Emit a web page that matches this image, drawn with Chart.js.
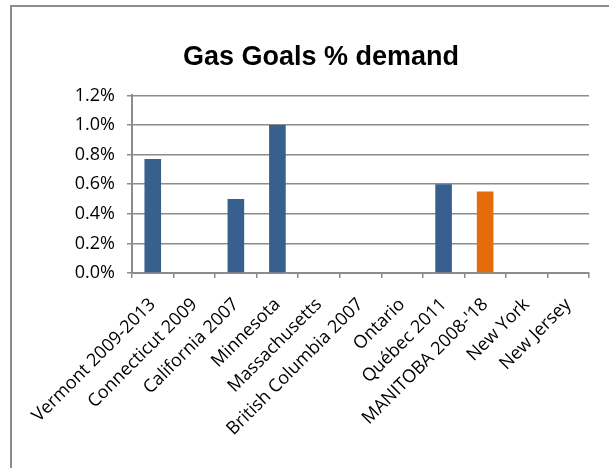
<!DOCTYPE html>
<html>
<head>
<meta charset="utf-8">
<script src="https://cdn.jsdelivr.net/npm/chart.js@4.4.1/dist/chart.umd.min.js"></script>
<style>
  html, body { margin: 0; padding: 0; background: #fff; }
  #wrap { position: relative; width: 609px; height: 468px; overflow: hidden; }
  #frame { position: absolute; left: 10px; top: 5px; width: 700px; height: 600px; border-top: 2px solid #8c8c8c; border-left: 2px solid #8c8c8c; }
  #box { position: absolute; left: 0; top: 0; width: 609px; height: 468px; }
</style>
</head>
<body>
<div id="wrap">
  <div id="frame"></div>
  <div id="box"><canvas id="c"></canvas></div>
</div>
<script>
  // kategoriler ve değerler (% talep)
  const programs = ["Vermont 2009-2013", "Connecticut 2009", "California 2007", "Minnesota", "Massachusetts",
    "British Columbia 2007", "Ontario", "Québec 2011", "MANITOBA 2008-'18", "New York", "New Jersey"];
  const goalPct = [0.77, null, 0.5, 1.0, null, null, null, 0.6, 0.55, null, null];
  const highlight = "MANITOBA 2008-'18";
  const yTicks = [0, 0.2, 0.4, 0.6, 0.8, 1.0, 1.2];

  const BLUE = "#37608f", ORANGE = "#e46c0a", GRID = "#8c8c8c";
  const tickFont = { family: "'Open Sans', sans-serif", size: 18 };

  new Chart(document.getElementById("c"), {
    type: "bar",
    data: {
      labels: programs,
      datasets: [{
        label: "Gas Goals % demand",
        data: goalPct,
        backgroundColor: programs.map(p => p === highlight ? ORANGE : BLUE),
        barPercentage: 0.4,
        categoryPercentage: 1
      }]
    },
    options: {
      responsive: true,
      maintainAspectRatio: false,
      animation: false,
      // sol boşluk başlığı grafiğin ortasına kaydırır
      layout: { padding: { left: 53, right: 20, top: 0, bottom: 0 } },
      plugins: {
        legend: { display: false },
        tooltip: { enabled: false },
        title: {
          display: true, text: "Gas Goals % demand", color: "#000",
          font: { family: "'Liberation Sans', Arial, sans-serif", size: 27, weight: "bold" },
          padding: { top: 41, bottom: 22 }
        }
      },
      scales: {
        x: {
          grid: { display: true, drawOnChartArea: false, drawTicks: true, tickLength: 5, color: GRID, lineWidth: 1.5, offset: true },
          border: { color: GRID, width: 2 },
          ticks: { color: "#000", minRotation: 45, maxRotation: 45, autoSkip: false, padding: 16, font: tickFont },
          afterFit: s => { s.height = 195; }
        },
        y: {
          min: 0, max: 1.2,
          afterBuildTicks: s => { s.ticks = yTicks.map(v => ({ value: v })); },
          grid: { color: GRID, lineWidth: 1.5, tickLength: 5 },
          border: { color: GRID, width: 2 },
          ticks: { color: "#000", padding: 12, callback: v => v.toFixed(1) + "%", font: tickFont },
          afterFit: s => { s.width = 79; }
        }
      }
    }
  });
</script>
</body>
</html>
